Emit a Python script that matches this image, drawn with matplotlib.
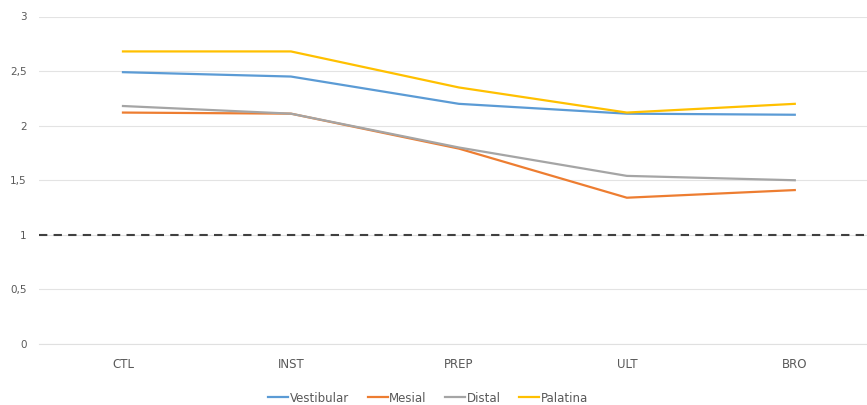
import matplotlib
matplotlib.use("Agg")
import matplotlib.pyplot as plt
from matplotlib.ticker import FuncFormatter

categories = ["CTL", "INST", "PREP", "ULT", "BRO"]
vestibular = [2.49, 2.45, 2.20, 2.11, 2.10]
mesial = [2.12, 2.11, 1.79, 1.34, 1.41]
distal = [2.18, 2.11, 1.80, 1.54, 1.50]
palatina = [2.68, 2.68, 2.35, 2.12, 2.20]
yticks = [0, 0.5, 1, 1.5, 2, 2.5, 3]
ref_value = 1

fig = plt.figure(figsize=(8.67, 4.05), dpi=100)
ax = fig.add_axes([39/867, 1 - 344/405, 1 - 39/867, (344 - 16.5)/405])

x = list(range(len(categories)))
series = [("Vestibular", vestibular, "#5B9BD5"),
          ("Mesial", mesial, "#ED7D31"),
          ("Distal", distal, "#A5A5A5"),
          ("Palatina", palatina, "#FFC000")]

ax.axhline(ref_value, color="#404040", lw=1.5, ls=(0, (4, 3)), zorder=2)
for name, vals, col in series:
    ax.plot(x, vals, color=col, lw=1.6, label=name, zorder=3, solid_joinstyle="round")

ax.set_ylim(0, 3)
ax.set_yticks(yticks)
ax.yaxis.set_major_formatter(FuncFormatter(lambda v, p: f"{v:g}".replace(".", ",")))
ax.set_xlim(-0.5, 4.43)
ax.set_xticks(x)
ax.set_xticklabels(categories)
ax.grid(axis="y", color="#E3E3E3", lw=0.8, zorder=0)
for s in ["top", "right", "left"]:
    ax.spines[s].set_visible(False)
ax.spines["bottom"].set_color("#E0E0E0")
ax.tick_params(axis="y", length=0, pad=9, labelsize=7.5, labelcolor="#595959")
ax.tick_params(axis="x", length=0, pad=10, labelsize=8.5, labelcolor="#595959")

leg = fig.legend(loc="center", bbox_to_anchor=(428/867, 1 - 398/405), ncol=4, frameon=False,
                 fontsize=8.5, handlelength=1.7, handletextpad=0.1, columnspacing=1.6)
for t in leg.get_texts():
    t.set_color("#595959")

fig.savefig("out.png", dpi=100)
